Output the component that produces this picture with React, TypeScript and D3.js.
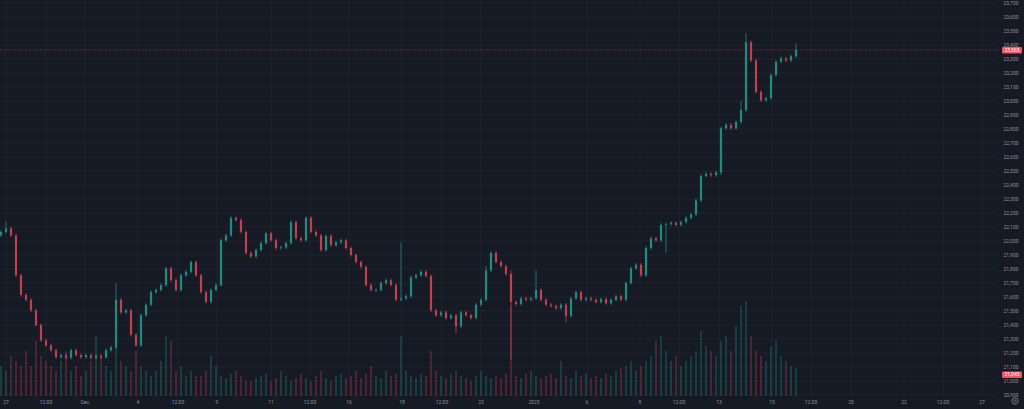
import React from 'react';
import * as d3 from 'd3';

// closes, one bar every ~5px of the reference
const closes = [
  22065, 22090, 22040, 21755, 21615, 21580, 21505, 21400, 21290, 21255,
  21220, 21170, 21185, 21165, 21220, 21185, 21170, 21185, 21165, 21180,
  21170, 21220, 21240, 21580, 21490, 21505, 21330, 21255, 21470, 21545,
  21635, 21650, 21685, 21805, 21720, 21650, 21755, 21780, 21850, 21755,
  21635, 21565, 21650, 21685, 22005, 22040, 22165, 22150, 22065, 21915,
  21890, 21935, 21985, 22055, 22005, 21950, 21955, 21985, 22135, 22020,
  22005, 22165, 22065, 22040, 21935, 22035, 21970, 21990, 22005, 21950,
  21900, 21850, 21815, 21685, 21650, 21650, 21700, 21720, 21685, 21580,
  21590, 21605, 21740, 21755, 21780, 21750, 21505, 21470, 21490, 21450,
  21470, 21390, 21490, 21470, 21450, 21545, 21580, 21790, 21915, 21850,
  21820, 21765, 21565, 21550, 21590, 21580, 21590, 21650, 21580, 21545,
  21535, 21520, 21545, 21465, 21590, 21635, 21580, 21590, 21580, 21565,
  21585, 21555, 21580, 21605, 21580, 21700, 21805, 21830, 21755, 21950,
  22020, 22005, 22115, 22120, 22130, 22115, 22135, 22165, 22190, 22290,
  22465, 22480, 22470, 22490, 22805, 22830, 22805, 22850, 22935, 23420,
  23290, 23065, 23005, 23020, 23185, 23280, 23305, 23290, 23320, 23365,
];
const firstOpen = 22040;

// bars whose wicks stick out further than usual
const longHighs: [number, number][] = [
  [1, 22140], [23, 21700], [80, 21990], [97, 21820], [102, 21790],
  [107, 21790], [148, 23000], [149, 23485], [159, 23410],
];
const longLows: [number, number][] = [
  [91, 21340], [102, 21150], [113, 21420], [133, 21915], [144, 22470],
];

const volumes = [
  30, 25, 40, 35, 30, 45, 30, 55, 40, 35,
  30, 25, 35, 45, 25, 30, 20, 25, 35, 60,
  40, 30, 25, 55, 35, 30, 25, 45, 30, 25,
  20, 25, 35, 60, 55, 25, 30, 20, 25, 20,
  20, 25, 40, 30, 20, 18, 22, 25, 20, 15,
  15, 18, 20, 22, 15, 18, 25, 20, 15, 18,
  22, 18, 15, 20, 25, 18, 15, 20, 22, 18,
  20, 25, 18, 22, 30, 20, 18, 25, 20, 22,
  60, 25, 20, 18, 22, 20, 45, 25, 20, 18,
  22, 25, 20, 18, 15, 20, 25, 20, 18, 20,
  18, 22, 90, 20, 18, 22, 25, 20, 18, 20,
  22, 18, 35, 20, 18, 25, 20, 22, 18, 20,
  18, 22, 20, 25, 28, 30, 35, 25, 30, 35,
  40, 55, 60, 45, 35, 40, 30, 35, 40, 45,
  65, 50, 45, 40, 55, 60, 45, 70, 90, 95,
  60, 45, 40, 35, 50, 55, 40, 35, 30, 28,
];

const xTicks: [number, string][] = [
  [1, '27'], [9, '12:00'], [16.8, 'Dec'], [27.4, '4'], [35.4, '12:00'],
  [43.2, '9'], [54, '11'], [61.8, '12:00'], [69.6, '16'], [80.2, '18'],
  [88.2, '12:00'], [96, '23'], [106.6, '2025'], [117.2, '6'], [127.8, '8'],
  [135.6, '12:00'], [143.6, '13'], [154.2, '15'], [162, '12:00'], [170, '20'],
  [180.6, '22'], [188.4, '12:00'], [196.2, '27'],
];
const yTicks = d3.range(20900, 23701, 100);
const lastPriceLabel = '23,365';
const lowerBoxLabel = '21,045';
const lowerBoxPrice = 21045;

const W = 1024;
const H = 409;
const UP = '#1f8c80';
const DOWN = '#c0404e';
const AXIS_TEXT = '#8c909b';

export default function App() {
  const x = d3.scaleLinear().domain([0, 160]).range([1, 801]);
  const y = d3.scaleLinear().domain([21100, 23700]).range([367, 3]);
  const v = d3.scaleLinear().domain([0, 100]).range([396, 296]);
  const fmt = d3.format(',');
  const hiMap = new Map(longHighs);
  const loMap = new Map(longLows);

  const bars = closes.map((c, i) => {
    const o = i === 0 ? firstOpen : closes[i - 1];
    const hi = hiMap.get(i) ?? Math.max(o, c) + 12;
    const lo = loMap.get(i) ?? Math.min(o, c) - 12;
    return { i, o, c, hi, lo, up: c >= o };
  });

  const lastY = y(closes[closes.length - 1]);
  const bw = 2.2;

  return (
    <svg
      width={W}
      height={H}
      style={{ position: 'fixed', left: 0, top: 0, background: '#161a25' }}
      fontFamily="Roboto, 'Liberation Sans', sans-serif"
    >
      <rect width={W} height={H} fill="#161a25" />
      {/* grid */}
      {yTicks.map((t) => (
        <line key={'gy' + t} x1={0} x2={997} y1={y(t)} y2={y(t)} stroke="#1f2330" strokeWidth={1} />
      ))}
      {xTicks.map(([t], k) => (
        <line key={'gx' + k} x1={x(t)} x2={x(t)} y1={0} y2={396} stroke="#1f2330" strokeWidth={1} />
      ))}

      {/* volume */}
      {bars.map((b) => (
        <rect
          key={'v' + b.i}
          x={x(b.i) - 0.9}
          y={v(volumes[b.i])}
          width={1.8}
          height={v(0) - v(volumes[b.i])}
          fill={b.up ? UP : DOWN}
          opacity={0.35}
        />
      ))}

      {/* candles */}
      {bars.map((b) => {
        const col = b.up ? UP : DOWN;
        const top = y(Math.max(b.o, b.c));
        const bot = y(Math.min(b.o, b.c));
        return (
          <g key={'c' + b.i}>
            <line x1={x(b.i)} x2={x(b.i)} y1={y(b.hi)} y2={y(b.lo)} stroke={col} strokeWidth={0.8} />
            <rect x={x(b.i) - bw / 2} y={top} width={bw} height={Math.max(0.8, bot - top)} fill={col} />
          </g>
        );
      })}

      {/* last price line */}
      <line x1={0} x2={1000} y1={lastY} y2={lastY} stroke="#f23645" strokeWidth={0.8} strokeDasharray="1,1.5" opacity={0.7} />

      {/* y axis labels */}
      {yTicks.map((t) => (
        <text key={'ty' + t} x={1011} y={y(t)} dy="0.35em" textAnchor="middle" fontSize={5} fill={AXIS_TEXT}>
          {fmt(t)}
        </text>
      ))}
      <rect x={1002} y={lastY - 3} width={20} height={6.5} rx={1} fill="#f7525f" />
      <text x={1012} y={lastY + 0.3} dy="0.35em" textAnchor="middle" fontSize={5} fill="#ffffff">
        {lastPriceLabel}
      </text>
      <rect x={1002} y={y(lowerBoxPrice) - 3.2} width={20} height={6.5} rx={1} fill="#f7525f" />
      <text x={1012} y={y(lowerBoxPrice)} dy="0.35em" textAnchor="middle" fontSize={5} fill="#ffffff">
        {lowerBoxLabel}
      </text>

      {/* x axis labels */}
      {xTicks.map(([t, l], k) => (
        <text key={'tx' + k} x={x(t)} y={402} dy="0.35em" textAnchor="middle" fontSize={5} fill={AXIS_TEXT}>
          {l}
        </text>
      ))}
      <circle cx={1015} cy={401} r={3.2} fill="none" stroke={AXIS_TEXT} strokeWidth={0.8} />
      <circle cx={1015} cy={401} r={1.2} fill="none" stroke={AXIS_TEXT} strokeWidth={0.6} />
    </svg>
  );
}
